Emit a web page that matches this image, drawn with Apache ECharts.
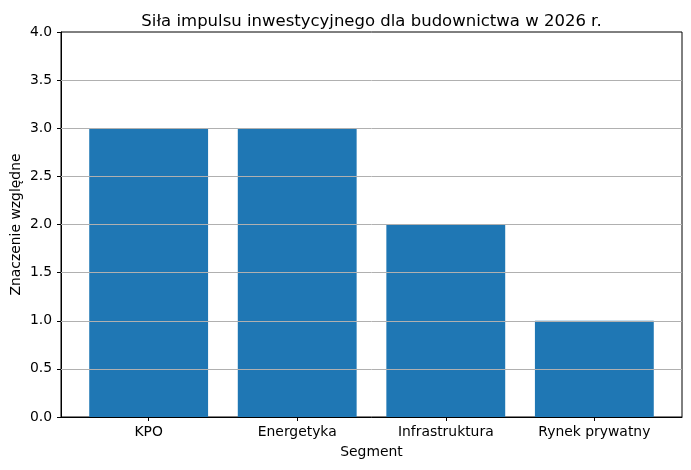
<!DOCTYPE html>
<html>
<head>
<meta charset="utf-8">
<script src="https://cdn.jsdelivr.net/npm/echarts@6/dist/echarts.min.js"></script>
<style>html,body{margin:0;padding:0;background:#fff;}#c{width:691px;height:470px;}</style>
</head>
<body>
<div id="c"></div>
<script>
const categories = ['KPO', 'Energetyka', 'Infrastruktura', 'Rynek prywatny'];
const values = [3, 3, 2, 1];
const yTicks = [0.5, 1.0, 1.5, 2.0, 2.5, 3.0, 3.5];

const chart = echarts.init(document.getElementById('c'));
const FONT = 'DejaVu Sans';
const gridLeft = 61, gridRight = 9, gridTop = 32, gridBottom = 53;
const plotW = 691 - gridLeft - gridRight;
const xMin = -0.59, xMax = categories.length - 1 + 0.59;
const barW = plotW / (xMax - xMin) * 0.8;

chart.setOption({
  animation: false,
  title: {
    text: 'Siła impulsu inwestycyjnego dla budownictwa w 2026 r.',
    left: gridLeft + plotW / 2 - 5, textAlign: 'center', top: 8,
    textStyle: { fontFamily: FONT, fontSize: 16.5, fontWeight: 'normal', color: '#000' }
  },
  grid: { left: gridLeft, right: gridRight, top: gridTop, bottom: gridBottom,
          containLabel: false, outerBoundsMode: 'none',
          show: true, borderColor: '#000', borderWidth: 1, backgroundColor: 'transparent' },
  xAxis: {
    type: 'value', min: xMin, max: xMax,
    name: 'Segment', nameLocation: 'middle', nameGap: 28, nameMoveOverlap: false,
    nameTextStyle: { fontFamily: FONT, fontSize: 13.9, color: '#000' },
    axisLine: { show: true, onZero: false, lineStyle: { color: '#000', width: 1 } },
    axisTick: { show: true, customValues: categories.map((c, i) => i), length: 4, lineStyle: { color: '#000' } },
    axisLabel: { customValues: categories.map((c, i) => i), margin: 8,
      formatter: v => categories[Math.round(v)] || '',
      fontFamily: FONT, fontSize: 13.9, color: '#000' },
    splitLine: { show: false }
  },
  yAxis: {
    type: 'value', min: 0, max: 4, interval: 0.5,
    name: 'Znaczenie względne', nameLocation: 'middle', nameGap: 38, nameMoveOverlap: false,
    nameTextStyle: { fontFamily: FONT, fontSize: 13.9, color: '#000' },
    axisLine: { show: true, onZero: false, lineStyle: { color: '#000', width: 1 } },
    axisTick: { show: true, length: 4, lineStyle: { color: '#000' } },
    axisLabel: { formatter: v => v.toFixed(1), margin: 9, fontFamily: FONT, fontSize: 13.9, color: '#000' },
    splitLine: { show: false }
  },
  series: [{
    type: 'bar',
    data: values.map((v, i) => [i, v]),
    barWidth: barW,
    itemStyle: { color: '#1f77b4' },
    markLine: {
      silent: true, symbol: 'none', label: { show: false },
      lineStyle: { color: '#b0b0b0', width: 1, type: 'solid' },
      data: yTicks.map(t => ({ yAxis: t }))
    }
  }]
});
</script>
</body>
</html>
